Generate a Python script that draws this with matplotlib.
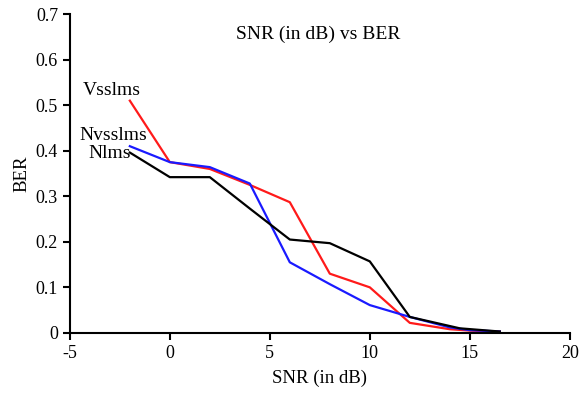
import matplotlib
matplotlib.use("Agg")
import matplotlib.pyplot as plt

# BER vs SNR for three adaptive filters
snr = [-2, 0, 2, 4, 6, 8, 10, 12, 14, 15, 16.5]
vsslms = [0.51, 0.375, 0.36, 0.325, 0.287, 0.13, 0.10, 0.022, 0.008, 0.005, 0.003]
nvsslms = [0.41, 0.375, 0.364, 0.328, 0.155, 0.107, 0.061, 0.035, 0.012, 0.006, 0.003]
snr_nlms = [-2, 0, 2, 4, 6, 8, 10, 12, 14.5, 16.5]
nlms = [0.396, 0.342, 0.342, 0.273, 0.205, 0.197, 0.157, 0.035, 0.01, 0.003]

xticks = [-5, 0, 5, 10, 15, 20]
yticks = [0, 0.1, 0.2, 0.3, 0.4, 0.5, 0.6, 0.7]

plt.rcParams["font.family"] = ["Liberation Serif", "DejaVu Serif"]
plt.rcParams["axes.unicode_minus"] = False

fig = plt.figure(figsize=(5.82, 3.93), dpi=100)
ax = fig.add_axes([0.120, 0.153, 0.859, 0.811])

ax.plot(snr, vsslms, color="#ff1a1a", lw=1.6)
ax.plot(snr, nvsslms, color="#1a1aff", lw=1.6)
ax.plot(snr_nlms, nlms, color="black", lw=1.6)

ax.text(-4.35, 0.533, "Vsslms", fontsize=14, ha="left", va="center")
ax.text(-4.5, 0.434, "Nvsslms", fontsize=14, ha="left", va="center")
ax.text(-4.05, 0.394, "Nlms", fontsize=14, ha="left", va="center")
ax.text(7.4, 0.656, "SNR (in dB) vs BER", fontsize=14, ha="center", va="center")

ax.set_xlim(-5, 20)
ax.set_ylim(0, 0.7)
ax.set_xticks(xticks)
ax.set_yticks(yticks)
ax.set_yticklabels(["0" if v == 0 else f"{v:.1f}" for v in yticks])
ax.set_xlabel("SNR (in dB)", fontsize=13.5, labelpad=6)
ax.set_ylabel("BER", fontsize=13.5)
ax.tick_params(labelsize=13, width=1.5, length=5, direction="out")
for s in ["top", "right"]:
    ax.spines[s].set_visible(False)
for s in ["left", "bottom"]:
    ax.spines[s].set_linewidth(1.5)

fig.savefig("out.png", dpi=100)
